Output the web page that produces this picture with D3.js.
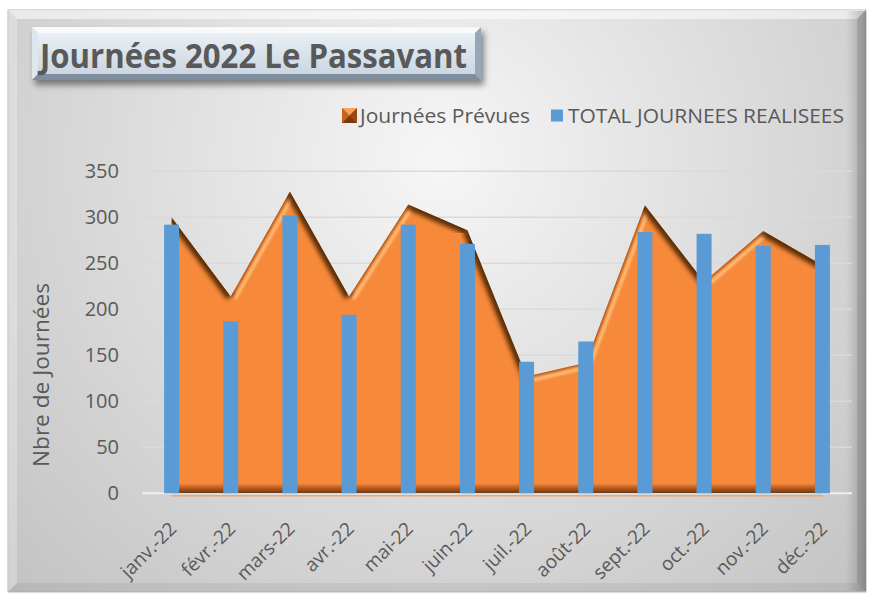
<!DOCTYPE html>
<html>
<head>
<meta charset="utf-8">
<script src="https://d3js.org/d3.v7.min.js"></script>
<style>
  body { margin: 0; background: #fff; }
  text { font-family: "Open Sans", sans-serif; fill: #595959; }
</style>
</head>
<body>
<script>
// chart values
var months = ["janv.-22", "févr.-22", "mars-22", "avr.-22", "mai-22", "juin-22",
              "juil.-22", "août-22", "sept.-22", "oct.-22", "nov.-22", "déc.-22"];
var prevues = [300, 214, 328, 214, 314, 286, 127, 142, 313, 230, 285, 248];
var realisees = [292, 187, 302, 194, 292, 271, 143, 165, 284, 282, 269, 270];
var yTicks = [0, 50, 100, 150, 200, 250, 300, 350];

var W = 872, H = 593;
var svg = d3.select("body").append("svg")
    .attr("width", W)
    .attr("height", H);
var defs = svg.append("defs");

// gradients and filters
var bg = defs.append("radialGradient").attr("id", "bg")
    .attr("gradientUnits", "userSpaceOnUse")
    .attr("cx", 440).attr("cy", 160).attr("r", 640);
bg.append("stop").attr("offset", 0).attr("stop-color", "#f6f6f6");
bg.append("stop").attr("offset", 1).attr("stop-color", "#c0c0c0");

var tg = defs.append("linearGradient").attr("id", "titleFill")
    .attr("x1", 0).attr("y1", 0).attr("x2", 0).attr("y2", 1);
tg.append("stop").attr("offset", 0).attr("stop-color", "#eef3f7");
tg.append("stop").attr("offset", 1).attr("stop-color", "#c6d3df");

var rg = defs.append("linearGradient").attr("id", "rightShade")
    .attr("x1", 0).attr("y1", 0).attr("x2", 1).attr("y2", 0);
rg.append("stop").attr("offset", 0).attr("stop-color", "#000").attr("stop-opacity", 0);
rg.append("stop").attr("offset", 1).attr("stop-color", "#000").attr("stop-opacity", 0.22);

var bs = defs.append("linearGradient").attr("id", "bottomStrip")
    .attr("x1", 0).attr("y1", 0).attr("x2", 0).attr("y2", 1);
bs.append("stop").attr("offset", 0).attr("stop-color", "#f68a3a");
bs.append("stop").attr("offset", 0.45).attr("stop-color", "#b95e1e");
bs.append("stop").attr("offset", 1).attr("stop-color", "#6e3410");

var shadow = defs.append("filter").attr("id", "shadow")
    .attr("x", "-10%").attr("y", "-30%").attr("width", "130%").attr("height", "180%");
shadow.append("feDropShadow").attr("dx", 3).attr("dy", 5)
    .attr("stdDeviation", 3).attr("flood-color", "#000").attr("flood-opacity", 0.45);

var blurDark = defs.append("filter").attr("id", "blurDark");
blurDark.append("feGaussianBlur").attr("stdDeviation", 2.2);
var blurLight = defs.append("filter").attr("id", "blurLight");
blurLight.append("feGaussianBlur").attr("stdDeviation", 1.1);

// chart frame with bevel
var fx0 = 8, fy0 = 10, fx1 = 866, fy1 = 592, b = 9;
svg.append("rect")
    .attr("x", fx0).attr("y", fy0)
    .attr("width", fx1 - fx0).attr("height", fy1 - fy0)
    .style("fill", "url(#bg)")
    .style("stroke", "#b8b8b8");

function poly(pts, fill, op) {
    svg.append("polygon")
        .attr("points", pts.map(function(p) { return p.join(","); }).join(" "))
        .style("fill", fill)
        .style("fill-opacity", op);
}
poly([[fx0, fy0], [fx1, fy0], [fx1 - b, fy0 + b], [fx0 + b, fy0 + b]], "#fff", 0.55);
poly([[fx0, fy0], [fx0 + b, fy0 + b], [fx0 + b, fy1 - b], [fx0, fy1]], "#fff", 0.25);
poly([[fx1, fy0], [fx1, fy1], [fx1 - b, fy1 - b], [fx1 - b, fy0 + b]], "#000", 0.1);
poly([[fx0, fy1], [fx0 + b, fy1 - b], [fx1 - b, fy1 - b], [fx1, fy1]], "#000", 0.06);
svg.append("rect")
    .attr("x", fx1 - 20).attr("y", fy0 + 1)
    .attr("width", 20).attr("height", fy1 - fy0 - 2)
    .style("fill", "url(#rightShade)");

// title box
var tb = svg.append("g").attr("filter", "url(#shadow)");
var tx0 = 32, ty0 = 27, tx1 = 481, ty1 = 80, tb_b = 6;
tb.append("rect")
    .attr("x", tx0).attr("y", ty0)
    .attr("width", tx1 - tx0).attr("height", ty1 - ty0)
    .style("fill", "url(#titleFill)");
function tpoly(pts, fill) {
    tb.append("polygon")
        .attr("points", pts.map(function(p) { return p.join(","); }).join(" "))
        .style("fill", fill);
}
tpoly([[tx0, ty0], [tx1, ty0], [tx1 - tb_b, ty0 + tb_b], [tx0 + tb_b, ty0 + tb_b]], "#f7f9fb");
tpoly([[tx0, ty0], [tx0 + tb_b, ty0 + tb_b], [tx0 + tb_b, ty1 - tb_b], [tx0, ty1]], "#dfe7ee");
tpoly([[tx1, ty0], [tx1, ty1], [tx1 - tb_b, ty1 - tb_b], [tx1 - tb_b, ty0 + tb_b]], "#98a7b5");
tpoly([[tx0, ty1], [tx0 + tb_b, ty1 - tb_b], [tx1 - tb_b, ty1 - tb_b], [tx1, ty1]], "#7f8e9c");

svg.append("text")
    .attr("x", 40).attr("y", 68)
    .attr("font-size", 34)
    .attr("font-weight", "bold")
    .attr("textLength", 427)
    .attr("lengthAdjust", "spacingAndGlyphs")
    .text("Journées 2022 Le Passavant");

// legend
var lg = svg.append("g");
lg.append("rect").attr("x", 342).attr("y", 108).attr("width", 15).attr("height", 15)
    .style("fill", "#e27a2c");
lg.append("polygon").attr("points", "342,108 357,108 349.5,115.5").style("fill", "#f6a25c");
lg.append("polygon").attr("points", "342,108 342,123 349.5,115.5").style("fill", "#c9621c");
lg.append("polygon").attr("points", "357,108 357,123 349.5,115.5").style("fill", "#9a4712");
lg.append("polygon").attr("points", "342,123 357,123 349.5,115.5").style("fill", "#7a3810");
lg.append("text").attr("x", 360).attr("y", 123)
    .attr("font-size", 20)
    .attr("textLength", 170)
    .attr("lengthAdjust", "spacingAndGlyphs")
    .text("Journées Prévues");
lg.append("rect").attr("x", 551).attr("y", 109.5).attr("width", 12).attr("height", 12)
    .style("fill", "#5b9bd5");
lg.append("text").attr("x", 568).attr("y", 123)
    .attr("font-size", 20)
    .attr("textLength", 276)
    .attr("lengthAdjust", "spacingAndGlyphs")
    .text("TOTAL JOURNEES REALISEES");

// scales
var x = d3.scaleBand().domain(months).range([142, 852]).padding(0);
var y = d3.scaleLinear().domain([0, 350]).range([493.3, 171.3]);
var xc = function(m) { return x(m) + x.bandwidth() / 2; };
var y0 = y(0);

// gridlines
svg.append("g").selectAll("line")
    .data(yTicks)
    .enter()
    .append("line")
    .attr("x1", 142).attr("x2", 852)
    .attr("y1", function(d) { return y(d); })
    .attr("y2", function(d) { return y(d); })
    .style("stroke", function(d) { return d === 0 ? "#efefef" : "#dadada"; })
    .style("stroke-width", function(d) { return d === 0 ? 2 : 1.5; });

// y axis
var yAxis = svg.append("g")
    .attr("transform", "translate(119,0)")
    .call(d3.axisLeft(y).tickValues(yTicks).tickSize(0).tickPadding(0));
yAxis.select(".domain").remove();
yAxis.selectAll("text")
    .attr("font-size", 20)
    .attr("font-family", "'Open Sans', sans-serif")
    .style("fill", "#595959");

svg.append("text")
    .attr("transform", "translate(48.5,375) rotate(-90)")
    .attr("text-anchor", "middle")
    .attr("font-size", 22)
    .attr("textLength", 184)
    .attr("lengthAdjust", "spacingAndGlyphs")
    .text("Nbre de Journées");

// x axis labels
var xAxis = svg.append("g")
    .attr("transform", "translate(0," + y0 + ")")
    .call(d3.axisBottom(x).tickSize(0).tickPadding(0));
xAxis.select(".domain").remove();
xAxis.selectAll("text")
    .attr("y", 0).attr("dy", 0)
    .attr("font-size", 19)
    .attr("font-family", "'Open Sans', sans-serif")
    .attr("text-anchor", "end")
    .attr("transform", "translate(6," + (530 - y0) + ") rotate(-45)")
    .style("fill", "#595959");

// area "Journées Prévues" with a bevel look
var pts = months.map(function(m, i) { return [xc(m), y(prevues[i])]; });
var area = d3.area()
    .x(function(d, i) { return xc(months[i]); })
    .y0(y0)
    .y1(function(d) { return y(d); });

defs.append("clipPath").attr("id", "areaClip")
    .append("path").attr("d", area(prevues));

var ag = svg.append("g").attr("clip-path", "url(#areaClip)");
ag.append("path")
    .attr("d", area(prevues))
    .style("fill", "#f68a3a");
ag.append("rect")
    .attr("x", pts[0][0]).attr("y", y0 - 10)
    .attr("width", pts[pts.length - 1][0] - pts[0][0]).attr("height", 10)
    .style("fill", "url(#bottomStrip)");

var segs = d3.pairs(pts);
segs.forEach(function(s) {
    var a = s[0], c = s[1];
    var dx = c[0] - a[0], dy = c[1] - a[1];
    var len = Math.sqrt(dx * dx + dy * dy);
    if (dy > 0) {
        // descending edge: in shadow
        ag.append("line")
            .attr("x1", a[0]).attr("y1", a[1]).attr("x2", c[0]).attr("y2", c[1])
            .style("stroke", "#4a2206")
            .style("stroke-width", 10)
            .style("stroke-opacity", 0.9)
            .attr("filter", "url(#blurDark)");
    } else {
        // rising edge: thin dark rim and a highlight just inside
        var nx = -dy / len * 5, ny = dx / len * 5;
        ag.append("line")
            .attr("x1", a[0]).attr("y1", a[1]).attr("x2", c[0]).attr("y2", c[1])
            .style("stroke", "#a9531a")
            .style("stroke-width", 3)
            .attr("filter", "url(#blurLight)");
        ag.append("line")
            .attr("x1", a[0] + nx).attr("y1", a[1] + ny)
            .attr("x2", c[0] + nx).attr("y2", c[1] + ny)
            .style("stroke", "#ffc98a")
            .style("stroke-width", 3)
            .style("stroke-opacity", 0.85)
            .attr("filter", "url(#blurLight)");
    }
});

svg.append("line")
    .attr("x1", pts[0][0]).attr("x2", pts[pts.length - 1][0])
    .attr("y1", y0 + 2.5).attr("y2", y0 + 2.5)
    .style("stroke", "#f2a46c")
    .style("stroke-width", 1.5);

// bars "TOTAL JOURNEES REALISEES"
var barW = 15;
svg.append("g").selectAll("rect")
    .data(realisees)
    .enter()
    .append("rect")
    .attr("x", function(d, i) { return xc(months[i]) - barW / 2; })
    .attr("y", function(d) { return y(d); })
    .attr("width", barW)
    .attr("height", function(d) { return y0 - y(d); })
    .style("fill", "#5b9bd5");
</script>
</body>
</html>
